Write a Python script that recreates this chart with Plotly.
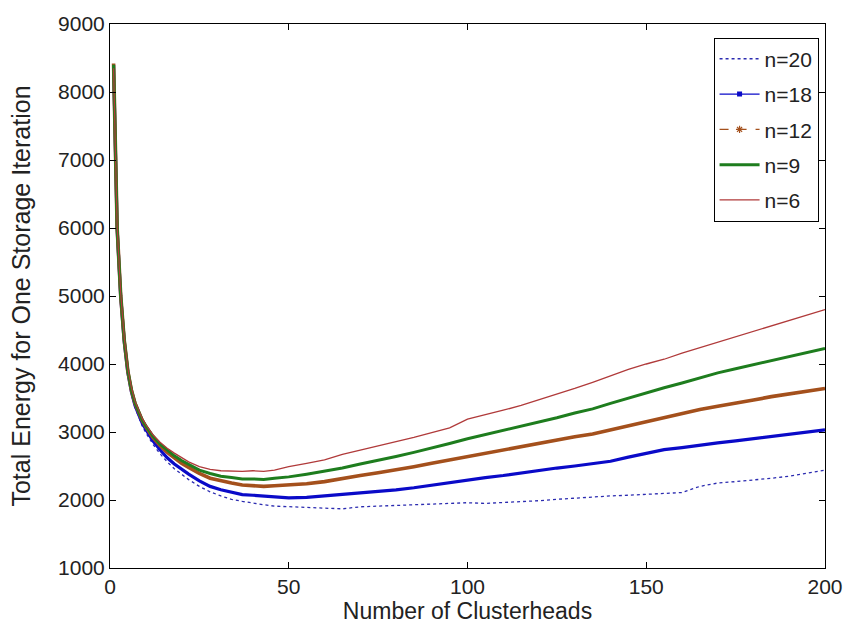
import plotly.graph_objects as go

# Number of clusterheads (sample points)
X = [1, 2, 3, 4, 5, 6, 7, 8, 9, 10, 12, 14, 16, 18, 20, 22, 25, 28, 31, 34, 37, 40, 43, 46,
     50, 55, 60, 65, 70, 75, 80, 85, 90, 95, 100, 105, 110, 115, 120, 125, 130, 135, 140,
     145, 150, 155, 160, 165, 170, 175, 180, 185, 190, 195, 200]

E_N20 = [8380, 5960, 4960, 4300, 3850, 3560, 3360, 3210, 3090, 2990, 2820, 2680, 2560, 2460,
         2380, 2300, 2200, 2120, 2060, 2010, 1980, 1950, 1930, 1910, 1900, 1890, 1880, 1870,
         1900, 1910, 1920, 1930, 1940, 1950, 1960, 1950, 1960, 1970, 1990, 2010, 2030, 2050,
         2060, 2070, 2080, 2090, 2110, 2200, 2250, 2270, 2290, 2320, 2350, 2390, 2440]

E_N18 = [8400, 5980, 4980, 4320, 3870, 3590, 3390, 3250, 3130, 3040, 2870, 2740, 2620, 2530,
         2450, 2380, 2280, 2200, 2150, 2110, 2080, 2070, 2060, 2040, 2030, 2040, 2060, 2080,
         2100, 2120, 2150, 2180, 2220, 2260, 2300, 2330, 2360, 2400, 2430, 2470, 2500, 2530,
         2570, 2630, 2690, 2740, 2770, 2810, 2840, 2870, 2900, 2930, 2960, 3000, 3030]

E_N12 = [8420, 6000, 5000, 4340, 3890, 3610, 3420, 3280, 3170, 3080, 2920, 2800, 2700, 2620,
         2540, 2480, 2390, 2320, 2280, 2250, 2220, 2210, 2200, 2210, 2220, 2240, 2270, 2320,
         2360, 2400, 2440, 2490, 2540, 2590, 2640, 2690, 2730, 2780, 2830, 2880, 2930, 2970,
         3030, 3100, 3160, 3210, 3270, 3330, 3380, 3420, 3470, 3520, 3560, 3600, 3640]

E_N9 = [8400, 6000, 5000, 4350, 3900, 3620, 3430, 3290, 3180, 3090, 2940, 2820, 2730, 2650,
        2580, 2520, 2440, 2390, 2350, 2330, 2310, 2310, 2300, 2320, 2340, 2380, 2420, 2470,
        2530, 2580, 2640, 2700, 2760, 2830, 2900, 2960, 3020, 3090, 3150, 3210, 3280, 3340,
        3420, 3500, 3580, 3650, 3720, 3800, 3870, 3930, 3990, 4050, 4110, 4170, 4230]

E_N6 = [8350, 6020, 5030, 4380, 3930, 3650, 3450, 3310, 3200, 3110, 2960, 2850, 2760, 2690,
        2620, 2560, 2490, 2450, 2430, 2420, 2420, 2430, 2420, 2440, 2490, 2540, 2590, 2670,
        2730, 2790, 2860, 2920, 2990, 3060, 3190, 3250, 3320, 3390, 3470, 3550, 3640, 3730,
        3830, 3920, 4000, 4070, 4160, 4240, 4320, 4400, 4480, 4560, 4640, 4720, 4800]

LABELS = ["n=20", "n=18", "n=12", "n=9", "n=6"]
X_TICKS = [0, 50, 100, 150, 200]
Y_TICKS = [1000, 2000, 3000, 4000, 5000, 6000, 7000, 8000, 9000]

C20 = "#2b2bb0"
C18 = "#0a0ac8"
C12 = "#a4501c"
C9 = "#1e7d1e"
C6 = "#b03a3a"

fig = go.Figure()

# n=20 : dotted
fig.add_trace(go.Scatter(x=X, y=E_N20, mode="lines", name=LABELS[0], legendrank=1,
                         legendgroup="g1",
                         line=dict(color=C20, width=1.3, dash="dot")))
# n=18 : solid with dot markers (dense markers -> thick band)
fig.add_trace(go.Scatter(x=X, y=E_N18, mode="lines", showlegend=False, legendgroup="g2",
                         line=dict(color=C18, width=3.2)))
fig.add_trace(go.Scatter(x=[None], y=[None], mode="lines+markers", name=LABELS[1], legendrank=2,
                         legendgroup="g2",
                         line=dict(color=C18, width=1.2),
                         marker=dict(symbol="square", size=5, color=C18)))
# n=12 : dashed with star markers
fig.add_trace(go.Scatter(x=X, y=E_N12, mode="lines", showlegend=False, legendgroup="g3",
                         line=dict(color=C12, width=3.6)))
fig.add_trace(go.Scatter(x=[None], y=[None], mode="lines+markers", name=LABELS[2], legendrank=3,
                         legendgroup="g3",
                         line=dict(color=C12, width=1.2, dash="dash"),
                         marker=dict(symbol="asterisk", size=6, color=C12,
                                     line=dict(color=C12, width=1.2))))
# n=9 : thick green
fig.add_trace(go.Scatter(x=X, y=E_N9, mode="lines", name=LABELS[3], legendrank=4,
                         legendgroup="g4",
                         line=dict(color=C9, width=3)))
# n=6 : thin red
fig.add_trace(go.Scatter(x=X, y=E_N6, mode="lines", name=LABELS[4], legendrank=5,
                         legendgroup="g5",
                         line=dict(color=C6, width=1.3)))

axis_common = dict(showline=True, linecolor="black", linewidth=1, mirror="ticks",
                   ticks="inside", ticklen=6, tickcolor="black", showgrid=False,
                   zeroline=False, tickfont=dict(size=21, color="#222222"))

fig.update_xaxes(range=[0, 200], tickvals=X_TICKS, **axis_common,
                 title=dict(text="Number of Clusterheads", font=dict(size=23, color="#222222"),
                            standoff=5))
fig.update_yaxes(range=[1000, 9000], tickvals=Y_TICKS, **axis_common,
                 title=dict(text="Total Energy for One Storage Iteration",
                            font=dict(size=25, color="#222222"), standoff=20))

fig.update_layout(
    width=855, height=632,
    margin=dict(l=110, r=22, t=19, b=64),
    paper_bgcolor="white", plot_bgcolor="white",
    font=dict(family="Liberation Sans, Arial, sans-serif", size=21, color="#222222"),
    legend=dict(x=0.991, y=0.975, xanchor="right", yanchor="top",
                bgcolor="white", bordercolor="black", borderwidth=1,
                font=dict(size=21), itemwidth=40, tracegroupgap=5,
                traceorder="grouped"),
)

fig.write_html("out.html")
